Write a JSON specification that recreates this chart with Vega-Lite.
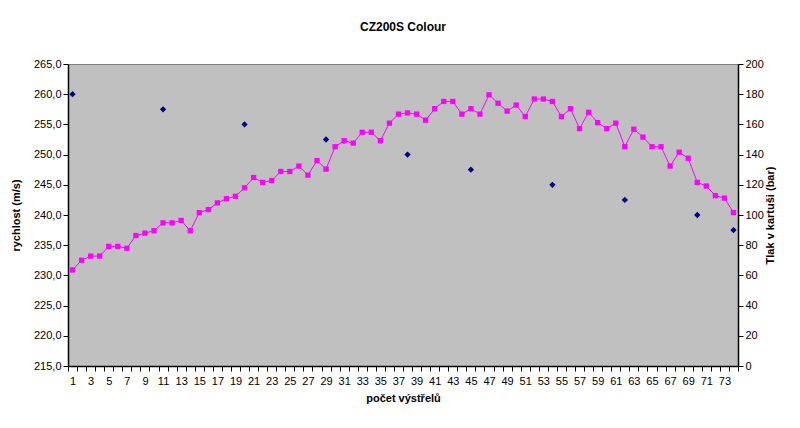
{
  "$schema": "https://vega.github.io/schema/vega-lite/v6.json",
  "width": 670,
  "height": 302,
  "autosize": {"type": "none"},
  "padding": {"left": 68, "top": 64, "right": 62, "bottom": 62},
  "background": "#FFFFFF",
  "title": {
    "text": "CZ200S Colour",
    "font": "Liberation Sans",
    "fontSize": 12,
    "fontWeight": "bold",
    "color": "#000000",
    "anchor": "middle",
    "offset": 24
  },
  "config": {
    "view": {"fill": "#C0C0C0", "stroke": "#808080", "strokeWidth": 1},
    "axis": {
      "labelFont": "Liberation Sans",
      "labelFontSize": 11,
      "labelColor": "#000000",
      "titleFont": "Liberation Sans",
      "titleFontSize": 11,
      "titleFontWeight": "bold",
      "titleColor": "#000000",
      "domainColor": "#000000",
      "domainWidth": 1.5,
      "tickColor": "#000000",
      "tickSize": 5,
      "grid": false
    }
  },
  "datasets": {
    "speed": [
      {"shot": 1, "v": 230.9}, {"shot": 2, "v": 232.5}, {"shot": 3, "v": 233.2}, {"shot": 4, "v": 233.2},
      {"shot": 5, "v": 234.8}, {"shot": 6, "v": 234.8}, {"shot": 7, "v": 234.5}, {"shot": 8, "v": 236.6},
      {"shot": 9, "v": 237.0}, {"shot": 10, "v": 237.4}, {"shot": 11, "v": 238.7}, {"shot": 12, "v": 238.7},
      {"shot": 13, "v": 239.1}, {"shot": 14, "v": 237.4}, {"shot": 15, "v": 240.4}, {"shot": 16, "v": 240.9},
      {"shot": 17, "v": 242.0}, {"shot": 18, "v": 242.7}, {"shot": 19, "v": 243.1}, {"shot": 20, "v": 244.5},
      {"shot": 21, "v": 246.2}, {"shot": 22, "v": 245.4}, {"shot": 23, "v": 245.7}, {"shot": 24, "v": 247.2},
      {"shot": 25, "v": 247.2}, {"shot": 26, "v": 248.1}, {"shot": 27, "v": 246.6}, {"shot": 28, "v": 249.0},
      {"shot": 29, "v": 247.6}, {"shot": 30, "v": 251.3}, {"shot": 31, "v": 252.3}, {"shot": 32, "v": 251.9},
      {"shot": 33, "v": 253.7}, {"shot": 34, "v": 253.7}, {"shot": 35, "v": 252.3}, {"shot": 36, "v": 255.2},
      {"shot": 37, "v": 256.7}, {"shot": 38, "v": 256.9}, {"shot": 39, "v": 256.7}, {"shot": 40, "v": 255.7},
      {"shot": 41, "v": 257.6}, {"shot": 42, "v": 258.8}, {"shot": 43, "v": 258.8}, {"shot": 44, "v": 256.7},
      {"shot": 45, "v": 257.6}, {"shot": 46, "v": 256.7}, {"shot": 47, "v": 259.9}, {"shot": 48, "v": 258.5},
      {"shot": 49, "v": 257.2}, {"shot": 50, "v": 258.2}, {"shot": 51, "v": 256.3}, {"shot": 52, "v": 259.2},
      {"shot": 53, "v": 259.2}, {"shot": 54, "v": 258.8}, {"shot": 55, "v": 256.3}, {"shot": 56, "v": 257.6},
      {"shot": 57, "v": 254.3}, {"shot": 58, "v": 257.0}, {"shot": 59, "v": 255.3}, {"shot": 60, "v": 254.3},
      {"shot": 61, "v": 255.2}, {"shot": 62, "v": 251.3}, {"shot": 63, "v": 254.2}, {"shot": 64, "v": 252.9},
      {"shot": 65, "v": 251.3}, {"shot": 66, "v": 251.3}, {"shot": 67, "v": 248.1}, {"shot": 68, "v": 250.4},
      {"shot": 69, "v": 249.4}, {"shot": 70, "v": 245.4}, {"shot": 71, "v": 244.8}, {"shot": 72, "v": 243.2},
      {"shot": 73, "v": 242.8}, {"shot": 74, "v": 240.4}
    ],
    "pressure": [
      {"shot": 1, "p": 180}, {"shot": 11, "p": 170}, {"shot": 20, "p": 160}, {"shot": 29, "p": 150},
      {"shot": 38, "p": 140}, {"shot": 45, "p": 130}, {"shot": 54, "p": 120}, {"shot": 62, "p": 110},
      {"shot": 70, "p": 100}, {"shot": 74, "p": 90}
    ]
  },
  "layer": [
    {
      "data": {"name": "speed"},
      "mark": {"type": "line", "color": "#FF00FF", "strokeWidth": 1, "point": {"shape": "square", "size": 28, "filled": true, "color": "#FF00FF", "opacity": 1}},
      "encoding": {
        "x": {
          "field": "shot", "type": "ordinal",
          "scale": {"type": "band", "paddingInner": 0, "paddingOuter": 0},
          "axis": {
            "title": "počet výstřelů",
            "labelAngle": 0,
            "labelOverlap": false,
            "labelExpr": "datum.value % 2 == 1 ? datum.label : ''",
            "tickBand": "extent",
            "labelPadding": 4,
            "titlePadding": 6
          }
        },
        "y": {
          "field": "v", "type": "quantitative",
          "scale": {"domain": [215, 265], "nice": false, "zero": false},
          "axis": {
            "title": "rychlost (m/s)",
            "values": [215, 220, 225, 230, 235, 240, 245, 250, 255, 260, 265],
            "labelExpr": "replace(format(datum.value, '.1f'), '.', ',')",
            "titlePadding": 12
          }
        }
      }
    },
    {
      "data": {"name": "pressure"},
      "mark": {"type": "point", "shape": "diamond", "size": 40, "filled": true, "color": "#000080", "opacity": 1},
      "encoding": {
        "x": {"field": "shot", "type": "ordinal"},
        "y": {
          "field": "p", "type": "quantitative",
          "scale": {"domain": [0, 200], "nice": false},
          "axis": {
            "orient": "right",
            "title": "Tlak v kartuši (bar)",
            "titleAngle": 270,
            "values": [0, 20, 40, 60, 80, 100, 120, 140, 160, 180, 200],
            "titlePadding": 12
          }
        }
      }
    }
  ],
  "resolve": {"scale": {"y": "independent"}}
}
